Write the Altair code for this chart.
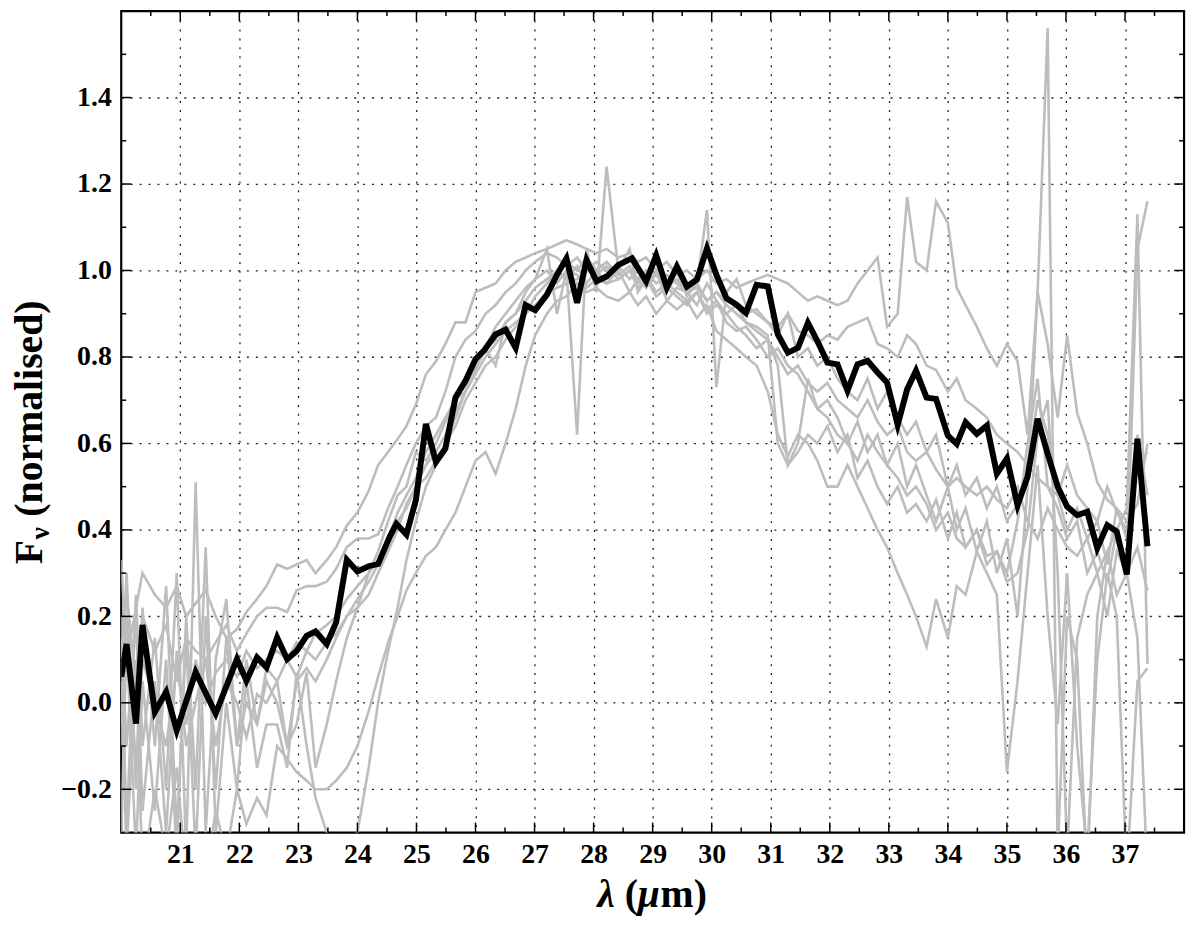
import altair as alt
import pandas as pd

SERIF = "Liberation Serif"

# wavelength grid shared by the individual (grey) spectra
grey_x = [20.0, 20.09, 20.25, 20.36, 20.57, 20.76, 20.94, 21.10,
          21.26, 21.43, 21.60, 21.78, 21.96, 22.12, 22.30, 22.46,
          22.64, 22.81, 22.97, 23.14, 23.29, 23.48, 23.64, 23.82,
          24.0, 24.19, 24.35, 24.52, 24.68, 24.83, 24.99, 25.16,
          25.33, 25.49, 25.66, 25.83, 26.0, 26.17, 26.34, 26.51,
          26.68, 26.85, 27.01, 27.21, 27.38, 27.54, 27.72, 27.88,
          28.05, 28.22, 28.42, 28.61, 28.75, 28.89, 29.06, 29.24,
          29.41, 29.58, 29.75, 29.92, 30.08, 30.25, 30.42, 30.58,
          30.76, 30.95, 31.12, 31.29, 31.46, 31.63, 31.79, 31.96,
          32.13, 32.30, 32.47, 32.64, 32.81, 32.97, 33.15, 33.31,
          33.46, 33.64, 33.80, 34.0, 34.15, 34.30, 34.49, 34.66,
          34.83, 35.0, 35.18, 35.35, 35.52, 35.69, 35.86, 36.02,
          36.19, 36.36, 36.53, 36.70, 36.86, 37.03, 37.21, 37.38]

g1 = [0.33, 0.10, 0.22, 0.30, 0.25, 0.22, 0.27, 0.20,
      0.23, 0.26, 0.20, 0.15, 0.17, 0.21, 0.24, 0.27,
      0.32, 0.31, 0.32, 0.33, 0.30, 0.33, 0.36, 0.41,
      0.44, 0.49, 0.55, 0.58, 0.61, 0.64, 0.69, 0.76,
      0.79, 0.83, 0.88, 0.88, 0.95, 0.96, 0.97, 1.00,
      1.02, 1.03, 1.04, 1.05, 1.06, 1.07, 1.06, 1.05,
      1.04, 1.05, 1.03, 1.04, 1.02, 1.03, 1.00, 1.02,
      0.99, 1.00, 0.98, 1.00, 0.97, 0.98, 0.96, 0.97,
      0.98, 0.99, 0.98, 0.97, 0.95, 0.93, 0.94, 0.93,
      0.92, 0.93, 0.97, 1.00, 1.03, 0.87, 0.90, 1.17,
      1.02, 1.00, 1.16, 1.11, 0.96, 0.92, 0.87, 0.82,
      0.78, 0.83, 0.79, 0.62, 0.95, 0.83, 0.66, 0.85,
      0.67, 0.60, 0.51, 0.47, 0.45, 0.42, 0.46, 0.60]

g2 = [0.10, 0.25, 0.05, 0.20, 0.12, 0.18, 0.05, 0.15,
      0.12, 0.10, 0.14, 0.18, 0.12, 0.16, 0.20, 0.22,
      0.22, 0.21, 0.26, 0.27, 0.27, 0.28, 0.31, 0.36,
      0.38, 0.38, 0.39, 0.45, 0.50, 0.55, 0.60, 0.64,
      0.66, 0.72, 0.80, 0.84, 0.86, 0.90, 0.92, 0.95,
      0.97, 1.00, 1.02, 1.04, 1.03, 1.01, 1.03, 1.00,
      1.02, 1.00, 1.01, 0.98, 1.00, 0.97, 0.99, 0.96,
      0.98, 0.95, 0.96, 0.93, 0.95, 0.93, 0.92, 0.90,
      0.91, 0.88, 0.87, 0.90, 0.86, 0.85, 0.83, 0.85,
      0.84, 0.87, 0.88, 0.89, 0.83, 0.82, 0.80, 0.85,
      0.83, 0.78, 0.77, 0.72, 0.75, 0.70, 0.68, 0.66,
      0.62, 0.60, 0.58, 0.55, 0.52, 0.50, 0.48, 0.55,
      0.48, 0.45, 0.42, 0.50, 0.44, 0.40, 0.62, 0.48]

g3 = [-0.10, 0.20, -0.15, 0.10, 0.00, -0.10, 0.08, -0.05,
      0.10, 0.00, 0.07, 0.10, 0.06, 0.12, 0.08, 0.10,
      0.12, 0.10, 0.14, 0.12, 0.16, 0.18, 0.20, 0.24,
      0.27, 0.30, 0.33, 0.38, 0.42, 0.45, 0.50, 0.55,
      0.58, 0.62, 0.67, 0.72, 0.76, 0.80, 0.83, 0.86,
      0.88, 0.90, 0.94, 0.97, 1.00, 0.98, 1.01, 0.97,
      1.00, 0.97, 0.98, 1.00, 0.96, 0.98, 0.94, 0.96,
      0.94, 0.92, 0.95, 0.90, 0.92, 0.90, 0.87, 0.85,
      0.82, 0.84, 0.80, 0.76, 0.78, 0.74, 0.72, 0.74,
      0.70, 0.68, 0.66, 0.70, 0.65, 0.62, 0.64, 0.58,
      0.56, 0.58, 0.54, 0.50, 0.52, 0.50, 0.48, 0.50,
      0.47, 0.45, 0.50, 0.42, 0.38, 0.45, 0.40, 0.36,
      0.34, 0.38, 0.30, 0.35, 0.40, 0.30, 0.36, 0.26]

g4 = [0.05, -0.35, 0.10, -0.40, -0.20, -0.35, -0.15, -0.40,
      -0.30, -0.40, -0.25, -0.35, -0.20, -0.28, -0.22, -0.26,
      -0.10, -0.13, -0.16, -0.18, -0.20, -0.20, -0.18, -0.15,
      -0.10, -0.02, 0.06, 0.14, 0.20, 0.26, 0.30, 0.34,
      0.36, 0.40, 0.44, 0.50, 0.56, 0.58, 0.53, 0.60,
      0.68, 0.78, 0.85, 0.90, 0.93, 0.94, 0.97, 0.95,
      0.96, 0.94, 0.93, 0.95, 0.92, 0.94, 0.90, 0.93,
      0.91, 0.93, 0.89, 0.92, 0.86, 0.84, 0.82, 0.80,
      0.78, 0.72, 0.62, 0.57, 0.62, 0.60, 0.56, 0.50,
      0.50, 0.55, 0.50, 0.45, 0.40, 0.36, 0.30, 0.25,
      0.20, 0.13, 0.24, 0.15, 0.27, 0.25, 0.35, 0.30,
      0.25, -0.16, 0.05, 0.30, 0.55, 0.20, -0.05, 0.30,
      -0.10, -0.35, 0.10, 0.30, 0.20, -0.40, 0.05, 0.08]

g5 = [0.20, -0.30, 0.25, -0.10, 0.15, -0.20, 0.30, -0.35,
      0.51, -0.30, 0.10, 0.24, -0.10, 0.00, -0.05, 0.05,
      0.00, -0.10, 0.05, 0.08, 0.05, 0.10, 0.15, 0.20,
      0.22, 0.30, 0.35, 0.42, 0.48, 0.50, 0.58, 0.56,
      0.60, 0.65, 0.70, 0.72, 0.77, 0.82, 0.78, 0.88,
      0.90, 0.95, 0.98, 1.05, 0.90, 1.00, 0.62, 1.05,
      0.95, 1.24, 1.00, 1.05, 0.95, 0.98, 1.02, 0.95,
      1.00, 0.94, 0.97, 1.14, 0.73, 0.95, 0.98, 0.92,
      0.90, 0.88, 0.85, 0.90, 0.80, 0.82, 0.78, 0.80,
      0.75, 0.72, 0.70, 0.75, 0.68, 0.72, 0.66, 0.62,
      0.65, 0.58, 0.62, 0.50, 0.55, 0.48, 0.52, 0.45,
      0.50, 0.42, 0.46, 0.55, 0.70, 0.62, 0.48, 0.40,
      0.45, 0.38, 0.42, 0.32, 0.45, 0.38, 0.55, 0.58]

g6 = [-0.30, 0.15, -0.35, 0.05, -0.25, 0.10, -0.35, 0.20,
      -0.20, 0.36, -0.30, 0.00, -0.20, 0.05, -0.15, -0.05,
      -0.05, -0.15, 0.07, -0.10, -0.22, -0.30, -0.35, -0.32,
      -0.30, -0.15, 0.00, 0.12, 0.22, 0.33, 0.42, 0.50,
      0.55, 0.60, 0.66, 0.72, 0.78, 0.82, 0.87, 0.90,
      0.93, 0.96, 0.98, 1.00, 0.97, 1.00, 0.99, 0.96,
      0.98, 0.97, 1.00, 0.95, 0.98, 0.96, 1.00, 0.93,
      0.96, 0.95, 0.92, 0.97, 0.93, 0.90, 0.92, 0.88,
      0.86, 0.84, 0.78, 0.55, 0.60, 0.75, 0.68, 0.70,
      0.66, 0.60, 0.65, 0.58, 0.62, 0.55, 0.60, 0.50,
      0.55, 0.48, 0.42, 0.50, 0.40, 0.45, 0.35, 0.42,
      0.30, 0.38, 0.20, 0.50, 0.95, 1.56, -0.35, 0.20,
      0.10, -0.40, 0.20, 0.35, 0.25, 0.30, 0.15, -0.40]

g7 = [0.15, -0.10, 0.20, -0.25, 0.05, -0.30, 0.12, -0.10,
      0.00, 0.10, -0.10, 0.05, 0.00, -0.08, 0.02, 0.00,
      0.05, -0.10, -0.05, 0.07, -0.15, -0.05, 0.05, 0.15,
      0.22, 0.25, 0.30, 0.35, 0.40, 0.46, 0.50, 0.52,
      0.56, 0.60, 0.64, 0.70, 0.74, 0.78, 0.80, 0.84,
      0.87, 0.90, 0.92, 0.95, 0.96, 0.97, 0.98, 1.00,
      0.99, 1.01, 0.98, 1.00, 0.97, 0.99, 0.95, 0.97,
      0.95, 0.93, 0.95, 0.91, 0.93, 0.88, 0.86, 0.87,
      0.84, 0.80, 0.82, 0.78, 0.76, 0.72, 0.68, 0.66,
      0.62, 0.60, 0.56, 0.62, 0.58, 0.55, 0.52, 0.48,
      0.50, 0.46, 0.40, 0.44, 0.38, 0.36, 0.40, 0.34,
      0.35, 0.30, 0.42, 0.60, 0.75, 0.50, 0.45, 0.38,
      0.42, 0.30, 0.35, 0.28, 0.40, 0.45, 1.13, 0.09]

g8 = [-0.05, 0.30, -0.20, 0.22, -0.10, 0.27, -0.30, 0.15,
      -0.35, 0.20, -0.20, 0.15, -0.10, 0.10, -0.05, 0.08,
      0.05, 0.10, 0.06, 0.12, 0.10, 0.14, 0.16, 0.20,
      0.24, 0.28, 0.32, 0.38, 0.44, 0.48, 0.52, 0.58,
      0.62, 0.66, 0.70, 0.74, 0.78, 0.82, 0.84, 0.88,
      0.90, 0.93, 0.96, 0.98, 1.00, 1.02, 1.00, 1.03,
      1.00, 1.02, 0.99, 1.01, 0.98, 1.00, 0.97, 0.99,
      0.97, 0.95, 0.97, 0.93, 0.95, 0.92, 0.90, 0.88,
      0.87, 0.85, 0.60, 0.55, 0.58, 0.62, 0.60, 0.64,
      0.58, 0.62, 0.52, 0.56, 0.50, 0.46, 0.50, 0.44,
      0.46, 0.42, 0.47, 0.38, 0.44, 0.36, 0.40, 0.32,
      0.35, 0.28, 0.30, 0.40, 0.62, 0.70, 0.30, -0.35,
      0.15, 0.25, 0.30, 0.20, 0.35, 0.30, 1.05, 1.16]

# mean spectrum (thick black line)
black_x = [20.0, 20.09, 20.25, 20.36, 20.57, 20.76, 20.94, 21.26, 21.60, 21.96,
           22.12, 22.30, 22.46, 22.64, 22.81, 22.97, 23.14, 23.29, 23.48, 23.64,
           23.82, 24.0, 24.19, 24.35, 24.55, 24.66, 24.83, 24.99, 25.16, 25.33,
           25.49, 25.66, 25.83, 26.0, 26.14, 26.34, 26.51, 26.68, 26.85, 27.01,
           27.21, 27.38, 27.54, 27.72, 27.88, 28.05, 28.22, 28.42, 28.65, 28.89,
           29.06, 29.24, 29.41, 29.58, 29.75, 29.92, 30.08, 30.25, 30.42, 30.58,
           30.76, 30.95, 31.12, 31.29, 31.46, 31.63, 31.79, 31.96, 32.13, 32.30,
           32.47, 32.64, 32.81, 32.97, 33.15, 33.31, 33.46, 33.64, 33.80, 34.0,
           34.15, 34.30, 34.49, 34.66, 34.83, 35.0, 35.18, 35.35, 35.52, 35.69,
           35.86, 36.02, 36.19, 36.36, 36.53, 36.70, 36.86, 37.03, 37.21, 37.38]
black_y = [0.06, 0.136, -0.048, 0.18, -0.021, 0.025, -0.064, 0.071, -0.025, 0.101,
           0.051, 0.105, 0.082, 0.151, 0.101, 0.12, 0.155, 0.165, 0.136, 0.186,
           0.331, 0.304, 0.316, 0.321, 0.385, 0.414, 0.389, 0.469, 0.645, 0.557,
           0.588, 0.706, 0.745, 0.795, 0.814, 0.852, 0.863, 0.821, 0.92, 0.908,
           0.944, 0.99, 1.028, 0.925, 1.024, 0.975, 0.986, 1.013, 1.028, 0.975,
           1.035, 0.96, 1.009, 0.963, 0.979, 1.051, 0.99, 0.936, 0.921, 0.902,
           0.967, 0.963, 0.852, 0.81, 0.821, 0.879, 0.837, 0.787, 0.783, 0.722,
           0.783, 0.791, 0.764, 0.741, 0.643, 0.725, 0.768, 0.706, 0.703, 0.618,
           0.599, 0.649, 0.622, 0.641, 0.530, 0.565, 0.457, 0.523, 0.657, 0.576,
           0.5, 0.454, 0.434, 0.442, 0.358, 0.411, 0.396, 0.297, 0.611, 0.362]

x_major = [21, 22, 23, 24, 25, 26, 27, 28, 29, 30, 31, 32, 33, 34, 35, 36, 37]
x_minor = [20.5, 21.5, 22.5, 23.5, 24.5, 25.5, 26.5, 27.5, 28.5, 29.5, 30.5,
           31.5, 32.5, 33.5, 34.5, 35.5, 36.5, 37.5]
y_major = [-0.2, 0.0, 0.2, 0.4, 0.6, 0.8, 1.0, 1.2, 1.4]
y_minor = [-0.1, 0.1, 0.3, 0.5, 0.7, 0.9, 1.1, 1.3, 1.5]

greys = [g1, g2, g3, g4, g5, g6, g7, g8]
for g in greys:
    assert len(g) == len(grey_x), len(g)
assert len(black_x) == len(black_y)

rows = []
for n, g in enumerate(greys):
    for xv, yv in zip(grey_x, g):
        rows.append({"x": xv, "y": yv, "s": f"g{n + 1}"})
grey_df = pd.DataFrame(rows)
black_df = pd.DataFrame({"x": black_x, "y": black_y})

W, H = 1070, 827
xs = alt.Scale(domain=[20, 38], nice=False, zero=False)
ys = alt.Scale(domain=[-0.3, 1.6], nice=False, zero=False)

x_axis = alt.Axis(values=x_major, format="d", grid=True, gridDash=[2, 7],
                  gridColor="#222222", gridWidth=1.3, ticks=False, domain=False,
                  labelFont=SERIF, labelFontSize=28, labelFontWeight="bold",
                  labelColor="black", labelPadding=8, labelFlush=False, title=None)
y_axis = alt.Axis(values=y_major, format=".1f", grid=True, gridDash=[2, 7],
                  gridColor="#222222", gridWidth=1.3, ticks=False, domain=False,
                  labelFont=SERIF, labelFontSize=28, labelFontWeight="bold",
                  labelColor="black", labelPadding=10, labelFlush=False, title=None)

grey_layer = alt.Chart(grey_df).mark_line(
    clip=True, color="#bdbdbd", strokeWidth=2.6
).encode(
    x=alt.X("x:Q", scale=xs, axis=x_axis),
    y=alt.Y("y:Q", scale=ys, axis=y_axis),
    detail="s:N",
    order="x:Q",
)

black_layer = alt.Chart(black_df).mark_line(
    clip=True, color="black", strokeWidth=6, strokeJoin="miter"
).encode(
    x=alt.X("x:Q", scale=xs, axis=x_axis),
    y=alt.Y("y:Q", scale=ys, axis=y_axis),
    order="x:Q",
)


def xticks(vals, length):
    d = pd.DataFrame({"v": vals})
    base = alt.Chart(d).mark_rule(color="black", strokeWidth=1.5)
    bottom = base.encode(x=alt.X("v:Q", scale=xs, axis=x_axis),
                         y=alt.value(H), y2=alt.value(H - length))
    top = base.encode(x=alt.X("v:Q", scale=xs, axis=x_axis),
                      y=alt.value(0), y2=alt.value(length))
    return [bottom, top]


def yticks(vals, length):
    d = pd.DataFrame({"v": vals})
    base = alt.Chart(d).mark_rule(color="black", strokeWidth=1.5)
    left = base.encode(y=alt.Y("v:Q", scale=ys, axis=y_axis),
                       x=alt.value(0), x2=alt.value(length))
    right = base.encode(y=alt.Y("v:Q", scale=ys, axis=y_axis),
                        x=alt.value(W), x2=alt.value(W - length))
    return [left, right]


one = pd.DataFrame({"k": [0]})


def label(text, x, y, size, angle=0, align="left", italic=False):
    kw = dict(text=text, font=SERIF, fontSize=size, fontWeight="bold",
              color="black", align=align, baseline="alphabetic")
    if angle:
        kw["angle"] = angle
    if italic:
        kw["fontStyle"] = "italic"
    return alt.Chart(one).mark_text(**kw).encode(x=alt.value(x), y=alt.value(y))


# y-axis title: F with subscript nu, then (normalised)
ytitle = [
    label("F", -80, 557, 40, angle=270),
    label("ν", -73, 532, 28, angle=270),
    label("(normalised)", -80, 509, 40, angle=270),
]
# x-axis title: lambda (mu m)
xtitle = [
    label("λ", 497, 902, 40, align="right", italic=True),
    label("(", 507, 902, 40),
    label("μ", 520, 902, 40, italic=True),
    label("m)", 543, 902, 40),
]

layers = ([grey_layer, black_layer]
          + xticks(x_major, 10) + xticks(x_minor, 5)
          + yticks(y_major, 10) + yticks(y_minor, 5)
          + ytitle + xtitle)

chart = alt.layer(*layers).properties(
    width=W, height=H,
    autosize=alt.AutoSizeParams(type="none"),
    padding={"left": 114, "top": 0, "right": 8, "bottom": 92},
).configure(background="white").configure_view(stroke="black", strokeWidth=2.2)

chart.save("out.html", embed_options={"renderer": "svg", "actions": False})
